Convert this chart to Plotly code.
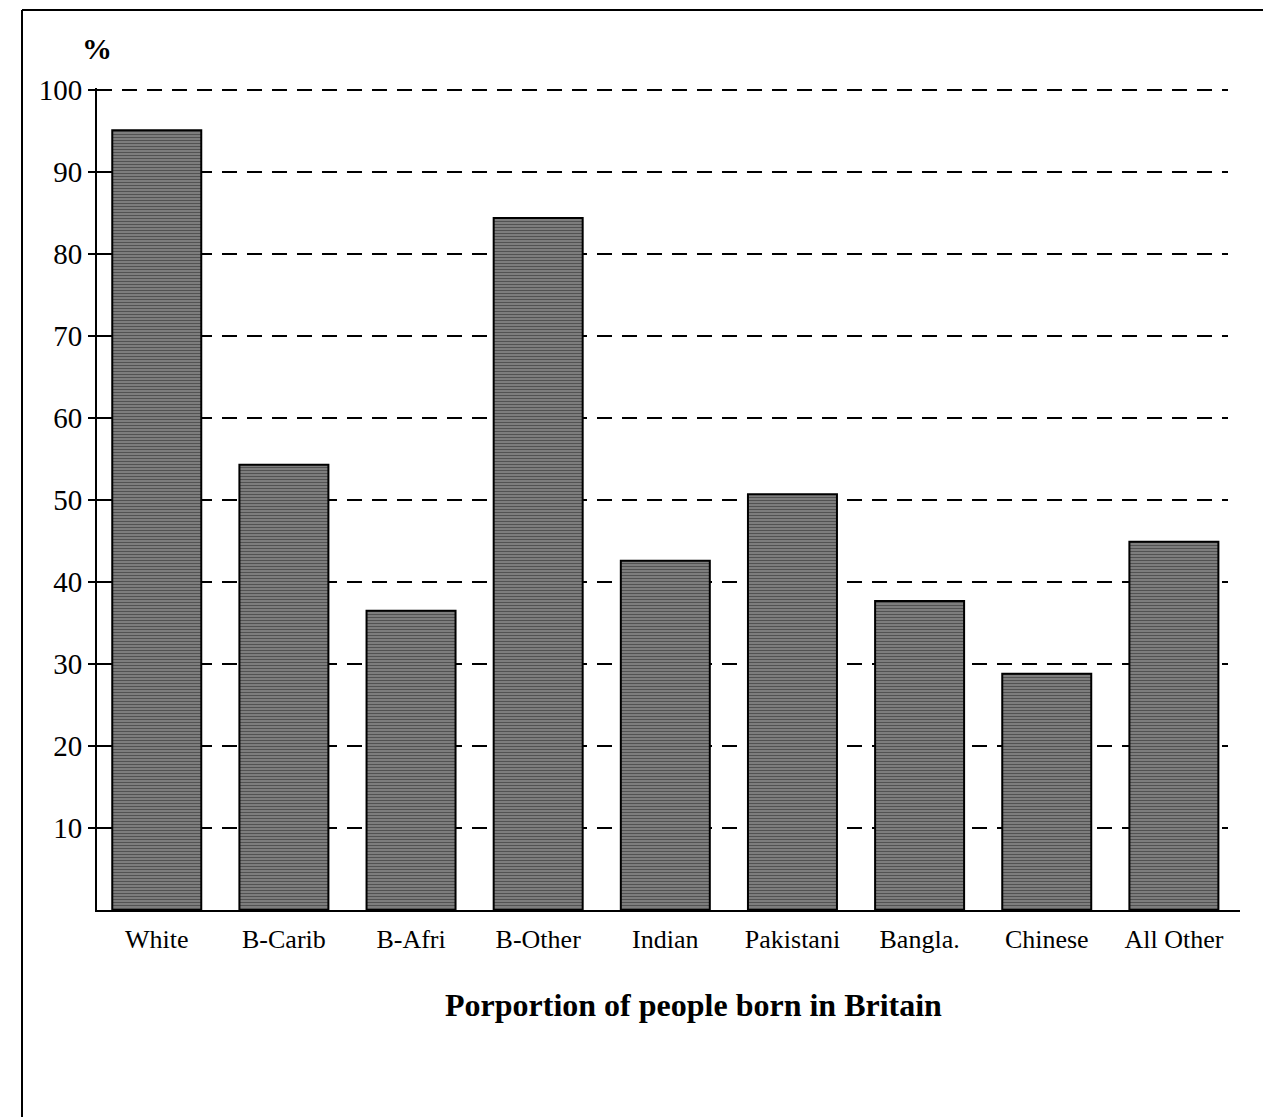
import plotly.graph_objects as go

categories = ["White", "B-Carib", "B-Afri", "B-Other", "Indian", "Pakistani", "Bangla.", "Chinese", "All Other"]
values = [95.1, 54.3, 36.5, 84.4, 42.6, 50.7, 37.7, 28.8, 44.9]
y_ticks = [10, 20, 30, 40, 50, 60, 70, 80, 90, 100]

OFF = 8  # page body margin offset
W, H = 1271 - OFF, 1117 - OFF
AX_L, AX_R = 97, 1240      # target pixel positions of plot area (reference coords)
Y0_PX, Y100_PX = 910, 90
YMAX = 100.25
unit = (Y0_PX - Y100_PX) / 100.0
top_px = Y0_PX - YMAX * unit

L = AX_L - OFF
R = W - (AX_R - OFF)
T = top_px - OFF
B = H - (Y0_PX - OFF)
pw, ph = W - L - R, H - T - B

def px_x(x):
    return (x - OFF - L) / pw

def px_y(y):
    return (H - B - (y - OFF)) / ph

serif = "Liberation Serif, Times New Roman, serif"

fig = go.Figure(go.Bar(
    x=categories,
    y=values,
    width=0.7,
    marker=dict(
        color="#8a8a8a",
        line=dict(color="#000000", width=2),
        pattern=dict(shape="-", fgcolor="#0a0a0a", bgcolor="#9a9a9a", size=3, solidity=0.6),
    ),
    showlegend=False,
))

fig.update_layout(
    width=W, height=H,
    margin=dict(l=L, r=R, t=T, b=B, pad=0),
    paper_bgcolor="white", plot_bgcolor="white",
    font=dict(family=serif, color="black"),
    bargap=0.3,
)

fig.update_xaxes(
    type="category",
    range=[-0.47, 8.52],
    showline=True, linecolor="black", linewidth=2,
    showgrid=False, ticks="", ticklabelstandoff=5,
    tickfont=dict(family=serif, size=26, color="black"),
)
fig.update_yaxes(
    range=[0, YMAX],
    tickvals=y_ticks,
    showline=True, linecolor="black", linewidth=2,
    ticks="outside", ticklen=7, tickwidth=2, tickcolor="black",
    showgrid=False,
    zeroline=False,
    tickfont=dict(family=serif, size=29, color="black"),
)

# dashed gridlines (stop short of the right end of the x axis, as in the reference)
for v in y_ticks:
    fig.add_shape(type="line", xref="paper", yref="y", layer="below",
                  x0=0, x1=px_x(1228), y0=v, y1=v,
                  line=dict(color="black", width=2, dash="15px,10px"))

fig.add_annotation(
    text="<b>Porportion of people born in Britain</b>",
    xref="paper", yref="paper", x=px_x(693), y=px_y(1005),
    xanchor="center", yanchor="middle", showarrow=False,
    font=dict(family=serif, size=32, color="black"),
)
fig.add_annotation(
    text="<b>%</b>",
    xref="paper", yref="paper", x=px_x(97), y=px_y(48),
    xanchor="center", yanchor="middle", showarrow=False,
    font=dict(family=serif, size=30, color="black"),
)

# outer frame of the figure (scan border)
fig.add_shape(type="line", xref="paper", yref="paper",
              x0=px_x(22), x1=px_x(22), y0=px_y(10), y1=px_y(1117),
              line=dict(color="black", width=2))
fig.add_shape(type="line", xref="paper", yref="paper",
              x0=px_x(22), x1=px_x(1271), y0=px_y(10), y1=px_y(10),
              line=dict(color="black", width=2))

fig.write_html("out.html")
